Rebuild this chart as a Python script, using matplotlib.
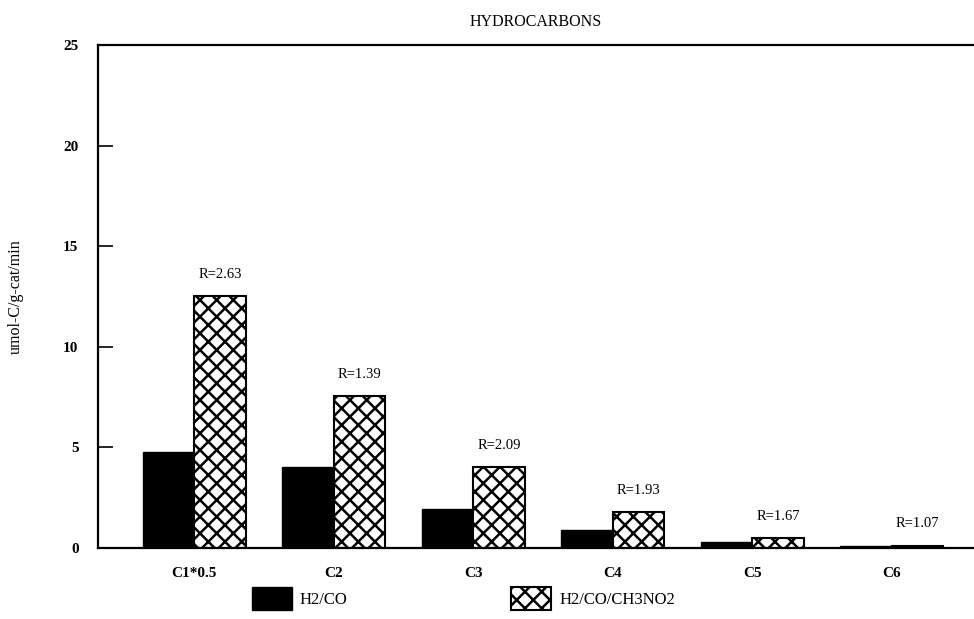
import numpy as np
import matplotlib
matplotlib.use('Agg')
import matplotlib.pyplot as plt

plt.rcParams['font.family'] = ['Liberation Serif', 'DejaVu Serif']
plt.rcParams['hatch.linewidth'] = 1.8

cats = ['C1*0.5', 'C2', 'C3', 'C4', 'C5', 'C6']
h2co = [4.78, 4.03, 1.94, 0.9, 0.3, 0.1]
h2co_nitro = [12.54, 7.56, 4.03, 1.79, 0.5, 0.12]
r_labels = ['R=2.63', 'R=1.39', 'R=2.09', 'R=1.93', 'R=1.67', 'R=1.07']

fig = plt.figure(figsize=(9.74, 6.19), dpi=100)
ax = fig.add_axes([0.1006, 0.1147, 0.8994, 0.8126])

x = np.arange(len(cats))
w = 0.37
b1 = ax.bar(x - w / 2, h2co, w, color='black', edgecolor='black', label='H2/CO')
b2 = ax.bar(x + w / 2, h2co_nitro, w, color='white', edgecolor='black',
            hatch='xx', linewidth=1.5, label='H2/CO/CH3NO2')

for xi, yi, lab in zip(x, h2co_nitro, r_labels):
    ax.text(xi + w / 2, yi + 0.75, lab, ha='center', va='bottom', fontsize=10.5)

ax.set_xlim(-0.69, 5.59)
ax.set_ylim(0, 25)
ax.set_yticks([0, 5, 10, 15, 20, 25])
ax.set_xticks(x)
ax.set_xticklabels(cats, fontsize=11, fontweight='bold')
ax.tick_params(axis='x', length=0, pad=14)
ax.tick_params(axis='y', direction='in', length=11, width=1.2, labelsize=11, pad=14)
for t in ax.get_yticklabels():
    t.set_fontweight('bold')
ax.spines['right'].set_visible(False)
for s in ['left', 'top', 'bottom']:
    ax.spines[s].set_linewidth(1.6)

ax.set_ylabel('umol-C/g-cat/min', fontsize=11.5, labelpad=28)
ax.set_title('HYDROCARBONS', fontsize=11.5, pad=14)

fig.legend(handles=[b1, b2], loc='lower left', bbox_to_anchor=(0.243, -0.01),
           ncol=2, frameon=False, fontsize=12, handlelength=2.4,
           handleheight=1.8, columnspacing=9.8, handletextpad=0.5)

fig.savefig('out.png', dpi=100)
